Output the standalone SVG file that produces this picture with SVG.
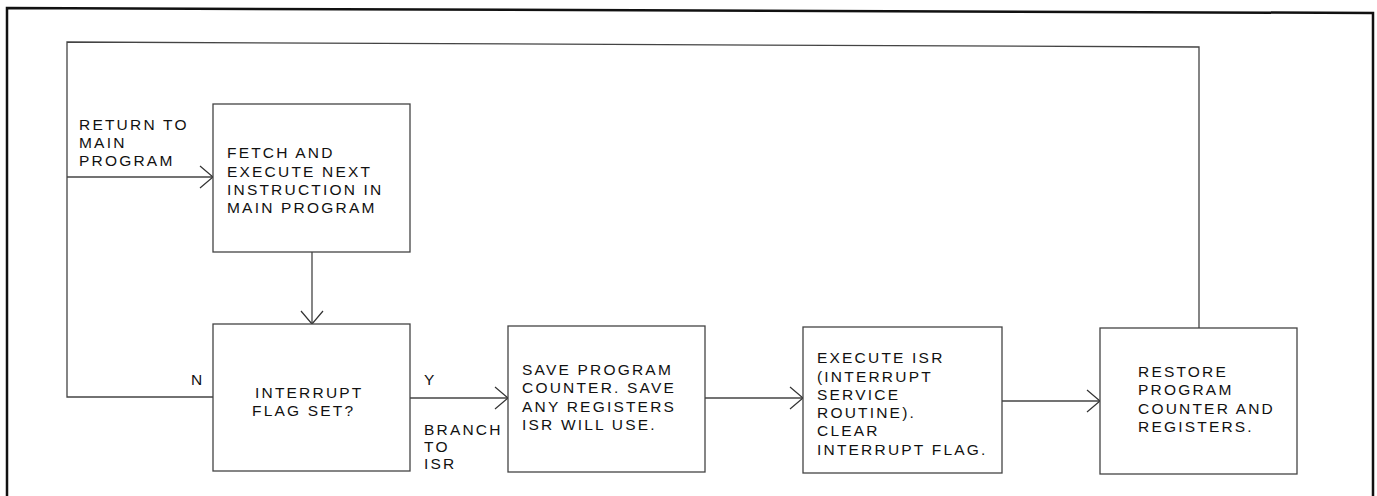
<svg xmlns="http://www.w3.org/2000/svg" width="1377" height="496" viewBox="0 0 1377 496">
<defs>
<marker id="arr" markerWidth="16" markerHeight="24" refX="14" refY="12" orient="auto" markerUnits="userSpaceOnUse">
<path d="M1,1 L14,12 L1,23" fill="none" stroke="#333" stroke-width="1.2"/>
</marker>
<style>
.box{fill:#fff;stroke:#444;stroke-width:1.3}
.ln{fill:none;stroke:#444;stroke-width:1.3}
.t{font-family:"Liberation Sans",Arial,sans-serif;font-size:15.5px;letter-spacing:2.2px;fill:#111}
</style>
</defs>
<rect width="1377" height="496" fill="#fff"/>
<path d="M7,510 L7,8 L1373,13 L1373,510" fill="none" stroke="#111" stroke-width="2.5"/>
<g id="connectors">
<path class="ln" d="M213,397 L67,397 L67,42 L1199,47 L1199,328"/>
<path class="ln" d="M67,177 L213,177" marker-end="url(#arr)"/>
<path class="ln" d="M312,252 L312,324" marker-end="url(#arr)"/>
<path class="ln" d="M410,398 L508,398" marker-end="url(#arr)"/>
<path class="ln" d="M705,398 L803,398" marker-end="url(#arr)"/>
<path class="ln" d="M1002,401 L1100,401" marker-end="url(#arr)"/>
</g>
<g id="label-return">
<text class="t" x="79" y="130">RETURN TO</text>
<text class="t" x="79" y="148">MAIN</text>
<text class="t" x="79" y="166">PROGRAM</text>
</g>
<g id="node-fetch">
<rect class="box" x="213" y="104" width="197" height="148"/>
<text class="t" x="227" y="158">FETCH AND</text>
<text class="t" x="227" y="177">EXECUTE NEXT</text>
<text class="t" x="227" y="195">INSTRUCTION IN</text>
<text class="t" x="227" y="213">MAIN PROGRAM</text>
</g>
<g id="node-interrupt">
<rect class="box" x="213" y="324" width="197" height="147"/>
<text class="t" x="255" y="398">INTERRUPT</text>
<text class="t" x="252" y="416">FLAG SET?</text>
</g>
<g id="label-n"><text class="t" x="191" y="385">N</text></g>
<g id="label-y"><text class="t" x="424" y="385">Y</text></g>
<g id="label-branch">
<text class="t" x="424" y="435">BRANCH</text>
<text class="t" x="424" y="452">TO</text>
<text class="t" x="424" y="469">ISR</text>
</g>
<g id="node-save">
<rect class="box" x="508" y="326" width="197" height="146"/>
<text class="t" x="522" y="375">SAVE PROGRAM</text>
<text class="t" x="522" y="393">COUNTER. SAVE</text>
<text class="t" x="522" y="412">ANY REGISTERS</text>
<text class="t" x="522" y="430">ISR WILL USE.</text>
</g>
<g id="node-execute">
<rect class="box" x="803" y="327" width="199" height="146"/>
<text class="t" x="817" y="363">EXECUTE ISR</text>
<text class="t" x="817" y="382">(INTERRUPT</text>
<text class="t" x="817" y="400">SERVICE</text>
<text class="t" x="817" y="418">ROUTINE).</text>
<text class="t" x="817" y="436">CLEAR</text>
<text class="t" x="817" y="455">INTERRUPT FLAG.</text>
</g>
<g id="node-restore">
<rect class="box" x="1100" y="328" width="197" height="146"/>
<text class="t" x="1138" y="377">RESTORE</text>
<text class="t" x="1138" y="395">PROGRAM</text>
<text class="t" x="1138" y="414">COUNTER AND</text>
<text class="t" x="1138" y="432">REGISTERS.</text>
</g>
</svg>
